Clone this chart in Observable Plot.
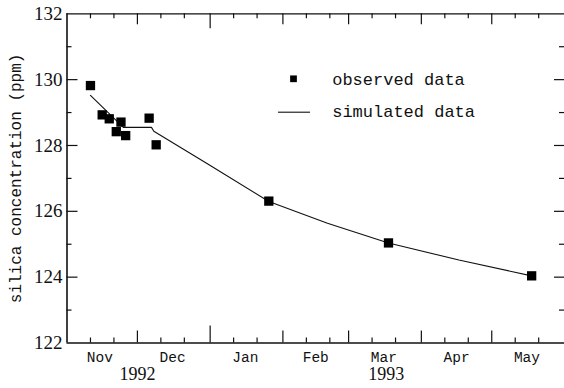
<!DOCTYPE html>
<html>
<head>
<meta charset="utf-8">
<script src="https://cdn.jsdelivr.net/npm/d3@7"></script>
<script src="https://cdn.jsdelivr.net/npm/@observablehq/plot@0.6"></script>
<style>
  html, body { margin: 0; padding: 0; background: #fff; }
  svg { display: block; }
</style>
</head>
<body>
<div id="chart"></div>
<script>
// Observed data (date, silica ppm)
const obsDates = ["1992-11-11","1992-11-16","1992-11-19","1992-11-22","1992-11-24","1992-11-26","1992-12-06","1992-12-09","1993-01-26","1993-03-18","1993-05-18"];
const obsValues = [129.82, 128.93, 128.81, 128.42, 128.71, 128.30, 128.83, 128.02, 126.31, 125.04, 124.04];

// Simulated data (line)
const simDates = ["1992-11-11","1992-11-25","1992-12-07","1992-12-08","1992-12-31","1993-01-26","1993-02-20","1993-03-18","1993-04-17","1993-05-18"];
const simValues = [129.52, 128.55, 128.55, 128.43, 127.44, 126.30, 125.64, 125.04, 124.52, 124.04];

// Axis labels / ticks
const monthNames = ["Nov","Dec","Jan","Feb","Mar","Apr","May"];
const monthLabelDates = ["1992-11-15","1992-12-16","1993-01-16","1993-02-15","1993-03-16","1993-04-16","1993-05-16"];
const yearNames = ["1992","1993"];
const yearLabelDates = ["1992-12-01","1993-03-17"];
const monthStarts = ["1992-12-01","1993-02-01","1993-03-01","1993-04-01","1993-05-01"];
const yearStarts = ["1993-01-01"];
const tenDayTicks = ["1992-11-11","1992-11-21","1992-12-11","1992-12-21","1993-01-11","1993-01-21","1993-02-11","1993-02-21","1993-03-11","1993-03-21","1993-04-11","1993-04-21","1993-05-11","1993-05-21"];
const yMajor = [124, 126, 128, 130];
const yMinor = [123, 125, 127, 129, 131];
const yLabels = [122, 124, 126, 128, 130, 132];
const xDomain = ["1992-11-01", "1993-06-01"];
const yDomain = [122, 132];

const P = d => new Date(d + "T00:00:00Z");
const obs = obsDates.map((d, i) => ({date: P(d), value: obsValues[i]}));
const sim = simDates.map((d, i) => ({date: P(d), value: simValues[i]}));

const W = 564, H = 388, mL = 66.5, mR = 0, mT = 13.3, mB = 45.5;
const pW = W - mL - mR, pH = H - mT - mB;
const mono = "Liberation Mono, DejaVu Sans Mono, monospace";
const serif = "Liberation Serif, DejaVu Serif, serif";

const xTicks = (dates, len, side) => Plot.ruleX(dates.map(P), {
  x: d => d, stroke: "#111", strokeWidth: 1.2,
  ...(side === "bottom" ? {insetTop: pH - len} : {insetBottom: pH - len})
});
const yTicks = (vals, len, side) => Plot.ruleY(vals, {
  y: d => d, stroke: "#111", strokeWidth: 1.2,
  ...(side === "left" ? {insetRight: pW - len} : {insetLeft: pW - len})
});

const chart = Plot.plot({
  width: W, height: H,
  marginLeft: mL, marginRight: mR, marginTop: mT, marginBottom: mB,
  style: {background: "#fff", color: "#111"},
  x: {type: "utc", domain: xDomain.map(P), axis: null},
  y: {domain: yDomain, axis: null},
  marks: [
    // frame: left, bottom, top
    Plot.ruleX([P(xDomain[0])], {stroke: "#111", strokeWidth: 1.6}),
    Plot.ruleY([yDomain[0]], {stroke: "#111", strokeWidth: 1.4}),
    Plot.ruleY([yDomain[1]], {stroke: "#111", strokeWidth: 1.2}),
    // x ticks bottom and top
    xTicks(tenDayTicks, 5, "bottom"),
    xTicks(monthStarts, 12, "bottom"),
    xTicks(yearStarts, 17, "bottom"),
    xTicks(tenDayTicks, 5, "top"),
    xTicks(monthStarts, 11, "top"),
    xTicks(yearStarts, 15, "top"),
    // y ticks left and right
    yTicks(yMajor, 11, "left"),
    yTicks(yMinor, 5, "left"),
    yTicks(yMajor, 10, "right"),
    yTicks(yMinor, 5, "right"),
    // y tick labels
    Plot.text(yLabels, {y: d => d, text: d => String(d), frameAnchor: "left", textAnchor: "end", dx: -4.5, lineAnchor: "middle", fontFamily: serif, fontSize: 19, fill: "#111"}),
    // month labels
    Plot.text(monthNames, {x: (d, i) => P(monthLabelDates[i]), text: d => d, frameAnchor: "bottom", dy: 14, lineAnchor: "middle", fontFamily: mono, fontSize: 14.5, letterSpacing: "1.3px", fill: "#111"}),
    // year labels
    Plot.text(yearNames, {x: (d, i) => P(yearLabelDates[i]), text: d => d, frameAnchor: "bottom", dy: 31.5, lineAnchor: "middle", fontFamily: serif, fontSize: 18, fill: "#111"}),
    // y axis title
    Plot.text(["silica concentration (ppm)"], {text: d => d, frameAnchor: "left", textAnchor: "middle", dx: -51.5, rotate: -90, lineAnchor: "middle", fontFamily: mono, fontSize: 16, letterSpacing: "1.5px", fill: "#111"}),
    // simulated line
    Plot.line(sim, {x: "date", y: "value", stroke: "#111", strokeWidth: 1.1}),
    // observed squares
    Plot.dot(obs, {x: "date", y: "value", symbol: "square", r: 5.25, fill: "#000", stroke: "none"}),
    // legend
    Plot.dot([0], {frameAnchor: "top-left", dx: 226.5, dy: 65, symbol: "square", r: 3.8, fill: "#000", stroke: "none"}),
    Plot.text(["observed data"], {text: d => d, frameAnchor: "top-left", dx: 265.2, dy: 65.6, textAnchor: "start", lineAnchor: "middle", fontFamily: mono, fontSize: 17, letterSpacing: "2.1px", fill: "#111"}),
    Plot.ruleY([0], {y: null, insetLeft: 211.5, insetRight: 254, dy: -66.2, stroke: "#111", strokeWidth: 1.1}),
    Plot.text(["simulated data"], {text: d => d, frameAnchor: "top-left", dx: 265.2, dy: 98, textAnchor: "start", lineAnchor: "middle", fontFamily: mono, fontSize: 17, letterSpacing: "2.1px", fill: "#111"})
  ]
});
document.getElementById("chart").appendChild(chart);
</script>
</body>
</html>
